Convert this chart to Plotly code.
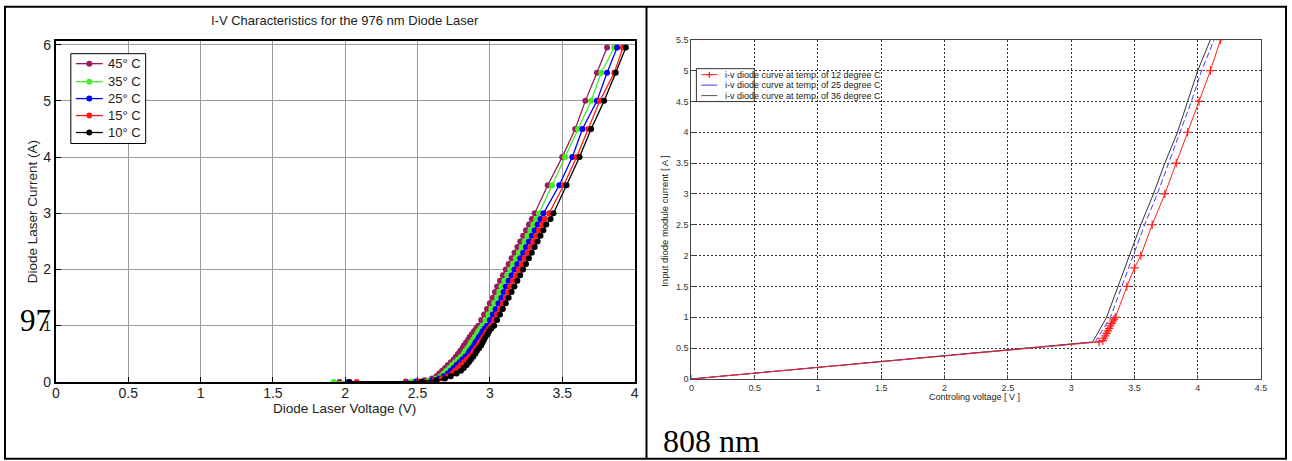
import plotly.graph_objects as go

W, H = 1292, 461

# ---------------- 976 nm diode laser (left panel) ----------------
current_976 = [0, 0.01, 0.03, 0.06, 0.1, 0.15, 0.2, 0.25, 0.3, 0.35, 0.4, 0.45, 0.5,
               0.55, 0.6, 0.65, 0.7, 0.75, 0.8, 0.85, 0.9, 0.95, 1.0, 1.1, 1.2, 1.3,
               1.4, 1.5, 1.6, 1.7, 1.8, 1.9, 2.0, 2.1, 2.2, 2.3, 2.4, 2.5, 2.6, 2.7,
               2.8, 2.9, 3.0, 3.5, 4.0, 4.5, 5.0, 5.5, 5.95]

volt_45C = [1.96, 2.42, 2.55, 2.60, 2.63, 2.65, 2.67, 2.69, 2.71, 2.73, 2.75, 2.765, 2.78,
            2.795, 2.81, 2.82, 2.835, 2.85, 2.86, 2.875, 2.89, 2.905, 2.92, 2.94, 2.96, 2.98,
            3.00, 3.02, 3.035, 3.05, 3.07, 3.09, 3.11, 3.13, 3.15, 3.17, 3.19, 3.21, 3.23, 3.25,
            3.27, 3.29, 3.31, 3.40, 3.50, 3.59, 3.66, 3.74, 3.81]
volt_35C = [1.92, 2.46, 2.58, 2.63, 2.66, 2.68, 2.70, 2.72, 2.74, 2.76, 2.78, 2.80, 2.82,
            2.83, 2.845, 2.86, 2.87, 2.885, 2.895, 2.91, 2.92, 2.935, 2.95, 2.97, 2.99, 3.01,
            3.03, 3.05, 3.065, 3.08, 3.10, 3.12, 3.14, 3.16, 3.18, 3.20, 3.22, 3.24, 3.26, 3.28,
            3.30, 3.32, 3.34, 3.43, 3.52, 3.61, 3.70, 3.77, 3.86]
volt_25C = [2.02, 2.49, 2.60, 2.65, 2.68, 2.71, 2.73, 2.75, 2.77, 2.79, 2.81, 2.83, 2.85,
            2.86, 2.875, 2.89, 2.90, 2.915, 2.925, 2.94, 2.95, 2.965, 2.98, 3.00, 3.02, 3.04,
            3.06, 3.08, 3.095, 3.11, 3.13, 3.15, 3.17, 3.19, 3.21, 3.23, 3.25, 3.27, 3.29, 3.31,
            3.33, 3.35, 3.37, 3.48, 3.57, 3.64, 3.74, 3.81, 3.88]
volt_15C = [2.08, 2.51, 2.62, 2.67, 2.71, 2.74, 2.76, 2.78, 2.80, 2.82, 2.84, 2.86, 2.88,
            2.89, 2.905, 2.92, 2.93, 2.945, 2.955, 2.97, 2.98, 2.995, 3.01, 3.03, 3.05, 3.07,
            3.09, 3.11, 3.125, 3.14, 3.16, 3.18, 3.20, 3.22, 3.24, 3.26, 3.28, 3.30, 3.32, 3.34,
            3.36, 3.38, 3.41, 3.51, 3.60, 3.68, 3.76, 3.86, 3.92]
volt_10C = [2.03, 2.53, 2.63, 2.69, 2.73, 2.77, 2.80, 2.82, 2.84, 2.855, 2.87, 2.885, 2.90,
            2.91, 2.925, 2.94, 2.95, 2.96, 2.97, 2.985, 2.995, 3.01, 3.03, 3.05, 3.07, 3.09,
            3.11, 3.13, 3.15, 3.17, 3.19, 3.21, 3.23, 3.25, 3.27, 3.29, 3.31, 3.33, 3.35, 3.37,
            3.39, 3.42, 3.44, 3.53, 3.62, 3.70, 3.79, 3.87, 3.94]

temps_976 = ["45° C", "35° C", "25° C", "15° C", "10° C"]
colors_976 = ["#9b1b5e", "#44ee22", "#0000ff", "#ff1a1a", "#000000"]
volts_976 = [volt_45C, volt_35C, volt_25C, volt_15C, volt_10C]

# ---------------- 808 nm diode module (right panel) ----------------
volt_12 = [0, 3.22, 3.25, 3.26, 3.27, 3.28, 3.29, 3.30, 3.31, 3.32, 3.33, 3.34, 3.35,
           3.44, 3.50, 3.55, 3.64, 3.74, 3.83, 3.92, 4.01, 4.10, 4.18]
curr_12 = [0, 0.6, 0.62, 0.66, 0.70, 0.74, 0.78, 0.82, 0.86, 0.90, 0.94, 0.97, 1.0,
           1.5, 1.8, 2.0, 2.5, 3.0, 3.5, 4.0, 4.5, 5.0, 5.5]
volt_25 = [0, 3.19, 3.31, 3.40, 3.49, 3.58, 3.68, 3.77, 3.86, 3.95, 4.03, 4.13]
curr_25 = [0, 0.6, 1.0, 1.5, 2.0, 2.5, 3.0, 3.5, 4.0, 4.5, 5.0, 5.5]
volt_36 = [0, 3.17, 3.28, 3.37, 3.46, 3.55, 3.65, 3.74, 3.84, 3.92, 4.00, 4.10]
curr_36 = [0, 0.6, 1.0, 1.5, 2.0, 2.5, 3.0, 3.5, 4.0, 4.5, 5.0, 5.5]
legend_808 = ["i-v diode curve at temp. of 12 degree C",
              "i-v diode curve at temp. of 25 degree C",
              "i-v diode curve at temp. of 36 degree C"]

# page-pixel -> paper fraction (calibrated from the rendered output)
X0, XS = 4.0, 1285.0
Y0, YS = 4.2, 449.0


def px(x):
    return (x - X0) / XS


def py(y):
    return 1 - (y - Y0) / YS


SANS = "Liberation Sans, Arial, sans-serif"
SERIF = "Liberation Serif, Times New Roman, serif"

fig = go.Figure()

for name, v, c in zip(temps_976, volts_976, colors_976):
    fig.add_trace(go.Scatter(
        x=v, y=current_976, mode="lines+markers", name=name,
        line=dict(color=c, width=1.3), marker=dict(size=6, color=c),
        xaxis="x", yaxis="y", showlegend=False))

fig.add_trace(go.Scatter(
    x=volt_36, y=curr_36, mode="lines", name=legend_808[2],
    line=dict(color="#333333", width=1), xaxis="x2", yaxis="y2", showlegend=False))
fig.add_trace(go.Scatter(
    x=volt_25, y=curr_25, mode="lines", name=legend_808[1],
    line=dict(color="#3b3bff", width=1, dash="6px,3px"), xaxis="x2", yaxis="y2",
    showlegend=False))
fig.add_trace(go.Scatter(
    x=volt_12, y=curr_12, mode="lines+markers", name=legend_808[0],
    line=dict(color="#ff2020", width=1),
    marker=dict(symbol="cross-thin", size=6, color="#ff2020",
                line=dict(color="#ff2020", width=1.2)),
    xaxis="x2", yaxis="y2", showlegend=False))


def pline(x0, y0, x1, y1, color, width):
    return dict(type="line", xref="paper", yref="paper", x0=px(x0), x1=px(x1),
                y0=py(y0), y1=py(y1), line=dict(color=color, width=width), layer="above")


shapes = [
    # table border and divider
    dict(type="rect", xref="paper", yref="paper", x0=px(5), x1=px(1289), y0=py(459), y1=py(6),
         line=dict(color="black", width=2), layer="above"),
    pline(648, 6, 648, 459, "black", 2),
    # left legend box
    dict(type="rect", xref="paper", yref="paper", x0=px(71), x1=px(146), y0=py(143), y1=py(53),
         fillcolor="white", line=dict(color="black", width=1), layer="above"),
    # right legend box
    dict(type="rect", xref="paper", yref="paper", x0=px(698), x1=px(756), y0=py(101), y1=py(68),
         fillcolor="white", line=dict(color="#333333", width=1), layer="above"),
    pline(703, 74, 719, 74, "#ff2020", 1),
    pline(708, 74, 714, 74, "#ff2020", 1.3),
    pline(711, 71, 711, 77, "#ff2020", 1.3),
    pline(703, 84.5, 719, 84.5, "#3b3bff", 1),
    pline(703, 95, 719, 95, "#555555", 1),
]

annotations = [
    dict(text="I-V Characteristics for the 976 nm Diode Laser", x=px(346), y=py(20),
         xref="paper", yref="paper", showarrow=False, xanchor="center", yanchor="middle",
         font=dict(family=SANS, size=13, color="#222")),
    dict(text="Diode Laser Voltage (V)", x=px(345), y=py(409),
         xref="paper", yref="paper", showarrow=False, xanchor="center", yanchor="middle",
         font=dict(family=SANS, size=13.5, color="#222")),
    dict(text="Diode Laser Current (A)", x=px(32), y=py(211), textangle=-90,
         xref="paper", yref="paper", showarrow=False, xanchor="center", yanchor="middle",
         font=dict(family=SANS, size=13.5, color="#222")),
    dict(text="97", x=px(18), y=py(320),
         xref="paper", yref="paper", showarrow=False, xanchor="left", yanchor="middle",
         font=dict(family=SERIF, size=31, color="black")),
    dict(text="808 nm", x=px(663), y=py(441),
         xref="paper", yref="paper", showarrow=False, xanchor="left", yanchor="middle",
         font=dict(family=SERIF, size=32, color="black")),
    dict(text="Controling voltage [ V ]", x=px(977), y=py(397),
         xref="paper", yref="paper", showarrow=False, xanchor="center", yanchor="middle",
         font=dict(family=SANS, size=9, color="#222")),
    dict(text="Input diode module current [ A ]", x=px(666), y=py(220), textangle=-90,
         xref="paper", yref="paper", showarrow=False, xanchor="center", yanchor="middle",
         font=dict(family=SANS, size=9.5, color="#222")),
]
for txt, yy in zip(legend_808, [74, 84.5, 95]):
    annotations.append(dict(text=txt, x=px(725), y=py(yy), xref="paper", yref="paper",
                            showarrow=False, xanchor="left", yanchor="middle",
                            font=dict(family=SANS, size=9, color="#222")))

# left legend (drawn by hand to match the compact original box)
for name, c, yy in zip(temps_976, colors_976, [63, 81, 98, 115, 132]):
    shapes.append(pline(76, yy, 103, yy, c, 1.3))
    shapes.append(dict(type="circle", xref="paper", yref="paper",
                       x0=px(86.5), x1=px(92.5), y0=py(yy + 3), y1=py(yy - 3),
                       fillcolor=c, line=dict(color=c, width=0), layer="above"))
    annotations.append(dict(text=name, x=px(106), y=py(yy), xref="paper", yref="paper",
                            showarrow=False, xanchor="left", yanchor="middle",
                            font=dict(family=SANS, size=13, color="#222")))

fig.update_layout(
    width=W, height=H, margin=dict(l=0, r=0, t=0, b=0),
    paper_bgcolor="white", plot_bgcolor="white", showlegend=False,
    xaxis=dict(domain=[px(56), px(636)], range=[0, 4], dtick=0.5, anchor="y",
               showgrid=True, gridcolor="#9a9a9a", gridwidth=1, zeroline=False,
               showline=True, linecolor="black", linewidth=2, mirror=True,
               ticks="inside", ticklen=5, tickcolor="black", ticklabelstandoff=-3,
               tickfont=dict(family=SANS, size=14, color="#222")),
    yaxis=dict(domain=[py(382), py(40)], range=[0, 6.07], dtick=1, anchor="x",
               showgrid=True, gridcolor="#9a9a9a", gridwidth=1, zeroline=False,
               showline=True, linecolor="black", linewidth=2, mirror=True,
               ticks="inside", ticklen=5, tickcolor="black",
               tickfont=dict(family=SANS, size=14, color="#222")),
    xaxis2=dict(domain=[px(693), px(1264)], range=[0, 4.5], dtick=0.5, anchor="y2",
                showgrid=True, gridcolor="#333333", gridwidth=1, griddash="2px,2px",
                zeroline=False, showline=True, linecolor="#444", linewidth=1, mirror=True,
                ticks="inside", ticklen=4, tickcolor="#444",
                tickfont=dict(family=SANS, size=9, color="#333")),
    yaxis2=dict(domain=[py(379), py(39)], range=[0, 5.5], dtick=0.5, anchor="x2",
                showgrid=True, gridcolor="#333333", gridwidth=1, griddash="2px,2px",
                zeroline=False, showline=True, linecolor="#444", linewidth=1, mirror=True,
                ticks="inside", ticklen=4, tickcolor="#444",
                tickfont=dict(family=SANS, size=9, color="#333")),
    shapes=shapes, annotations=annotations,
)

fig.write_html("out.html")
